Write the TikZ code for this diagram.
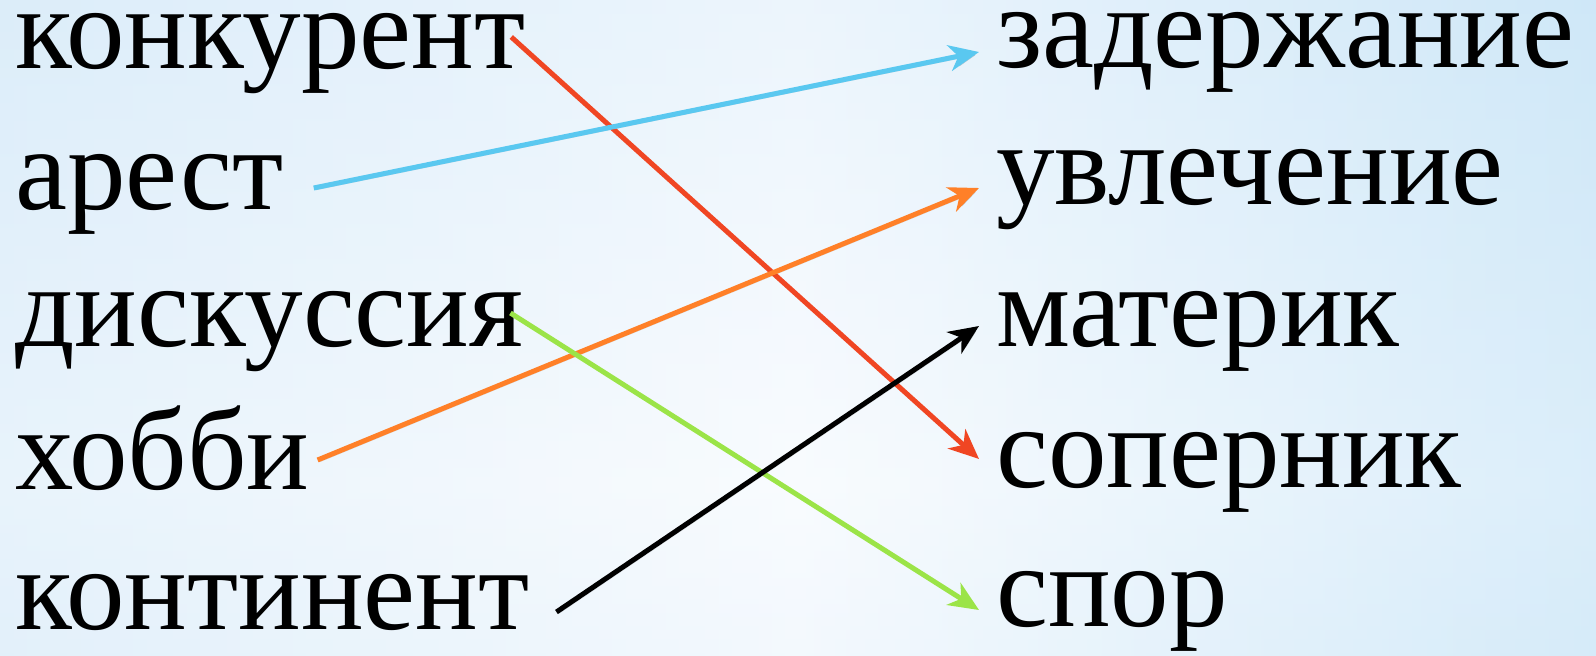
\documentclass[tikz,border=0pt]{standalone}
\usepackage{fontspec}
\setmainfont{Liberation Serif}
\usetikzlibrary{arrows.meta, calc, positioning}

\definecolor{bgleft}{RGB}{214,234,249}
\definecolor{bgmid}{RGB}{244,249,254}
\definecolor{bgright}{RGB}{190,224,246}
\definecolor{bgband}{RGB}{196,225,246}
\definecolor{redline}{RGB}{240,70,35}
\definecolor{blueline}{RGB}{90,200,240}
\definecolor{orangeline}{RGB}{255,128,40}
\definecolor{greenline}{RGB}{155,228,72}

\pgfdeclareverticalshading{bands}{100bp}{color(0bp)=(bgband); color(56bp)=(white);
  color(96bp)=(bgband); color(156bp)=(white); color(256bp)=(bgband); color(316bp)=(white);
  color(396bp)=(bgband); color(476bp)=(white); color(551bp)=(bgband); color(596bp)=(white);
  color(656bp)=(bgband)}

\tikzset{
  word/.style={anchor=base west, inner sep=0pt, font=\fontsize{117}{120}\selectfont},
  link/.style={line width=5pt, -{Stealth[length=30pt, width=26pt, inset=9pt]},
    preaction={draw=black, opacity=0.12, transform canvas={shift={(2pt,-2pt)}}}},
}

\begin{document}
\begin{tikzpicture}[x=1pt, y=-1pt]
\useasboundingbox (0,0) rectangle (1596,656);
\shade[left color=bgleft, right color=bgright, middle color=bgmid] (0,0) rectangle (1596,656);
\shade[shading=bands, opacity=0.45] (0,0) rectangle (1596,656);

% left column
\node[word] (konk) at (15,68) {конкурент};
\node[word] (arest) at (15,209) {арест};
\node[word] (disk) at (15,346) {дискуссия};
\node[word] (hobbi) at (15,489) {хобби};
\node[word] (kont) at (15,629) {континент};

% right column
\node[word] (zad) at (996,67) {задержание};
\node[word] (uvl) at (996,204) {увлечение};
\node[word] (mat) at (996,346) {материк};
\node[word] (sop) at (996,487) {соперник};
\node[word] (spor) at (996,626) {спор};

\draw[link, redline] ($(konk.base east)+(-14,-31)$) -- ($(sop.base west)+(-17,-28)$);
\draw[link, blueline] ($(arest.base east)+(30,-21)$) -- ($(zad.base west)+(-17,-15)$);
\draw[link, orangeline] ($(hobbi.base east)+(8,-29)$) -- ($(uvl.base west)+(-17,-16)$);
\draw[link, greenline] ($(disk.base east)+(-13,-33)$) -- ($(spor.base west)+(-17,-16)$);
\draw[link, black] ($(kont.base east)+(27,-17)$) -- ($(mat.base west)+(-17,-20)$);
\end{tikzpicture}
\end{document}
